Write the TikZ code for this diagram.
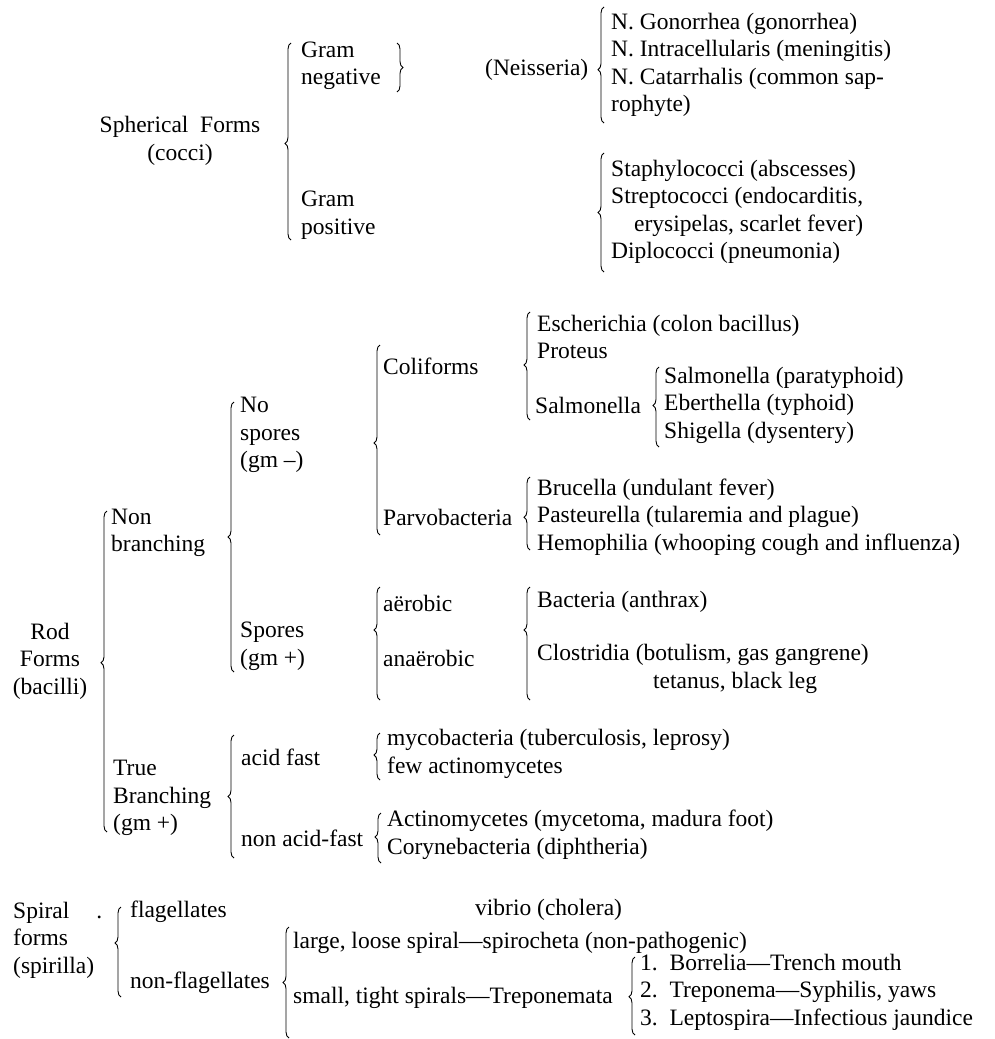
\documentclass[tikz,border=0pt]{standalone}
\usepackage{fontspec}
\setmainfont{Liberation Serif}
\usetikzlibrary{decorations.pathreplacing}

\begin{document}
\begin{tikzpicture}[x=1pt, y=-1pt,
    txt/.style={anchor=west, inner sep=0pt, align=left, font=\fontsize{23.5}{27.5}\selectfont},
    brc/.style={decorate, decoration={brace, amplitude=6pt, aspect=#1}, line width=0.9pt},
    brc/.default=0.5]
    \useasboundingbox (0,0) rectangle (994,1039);

    \begin{scope}
        \node[txt, align=center, anchor=center] (sph) at (180,141) {Spherical\ \ Forms\\(cocci)};
        \node[txt] (gneg) at (301,66) {Gram\\negative};
        \node[txt] (gpos) at (301,215) {Gram\\positive};
        \node[txt] (neis) at (485,70) {(Neisseria)};
        \node[txt] (nlist) at (611,65) {N. Gonorrhea (gonorrhea)\\N. Intracellularis (meningitis)\\N. Catarrhalis (common sap-\\rophyte)};
        \node[txt] (slist) at (611,212) {Staphylococci (abscesses)\\Streptococci (endocarditis,\\\hspace*{23pt}erysipelas, scarlet fever)\\Diplococci (pneumonia)};
        \draw[brc=0.49] (291,240) -- (291,43);
        \draw[brc] (397,43) -- (397,92);
        \draw[brc=0.46] (604,123) -- (604,7);
        \draw[brc] (604,272) -- (604,153);
    \end{scope}

    \begin{scope}
        \node[txt, align=center, anchor=center] (rod) at (50,661) {Rod\\Forms\\(bacilli)};
        \node[txt] (nonb) at (111,533) {Non\\branching};
        \node[txt] (trueb) at (113,798) {True\\Branching\\(gm +)};
        \node[txt] (nosp) at (240,435) {No\\spores\\(gm –)};
        \node[txt] (sp) at (240,646) {Spores\\(gm +)};
        \node[txt] (coli) at (383,366) {Coliforms};
        \node[txt] (parvo) at (383,517) {Parvobacteria};
        \node[txt] (ecoli) at (537,337) {Escherichia (colon bacillus)\\Proteus};
        \node[txt] (salm) at (535,405) {Salmonella};
        \node[txt] (sallist) at (664,405) {Salmonella (paratyphoid)\\Eberthella (typhoid)\\Shigella (dysentery)};
        \node[txt] (parlist) at (537,517) {Brucella (undulant fever)\\Pasteurella (tularemia and plague)\\Hemophilia (whooping cough and influenza)};
        \node[txt] (aer) at (383,603) {aërobic};
        \node[txt] (anaer) at (383,658) {anaërobic};
        \node[txt] (bact) at (537,602) {Bacteria (anthrax)};
        \node[txt] (clos) at (537,669) {Clostridia (botulism, gas gangrene)\\\hspace*{116pt}tetanus, black leg};
        \node[txt] (acid) at (241,757) {acid fast};
        \node[txt] (nacid) at (241,838) {non acid-fast};
        \node[txt] (myco) at (387,754) {mycobacteria (tuberculosis, leprosy)\\few actinomycetes};
        \node[txt] (actino) at (387,835) {Actinomycetes (mycetoma, madura foot)\\Corynebacteria (diphtheria)};
        \draw[brc=0.527] (107,832) -- (107,511);
        \draw[brc] (234,672) -- (234,402);
        \draw[brc=0.484] (380,535) -- (380,345);
        \draw[brc=0.51] (530,420) -- (530,312);
        \draw[brc=0.52] (659,447) -- (659,367);
        \draw[brc=0.45] (530,550) -- (530,477);
        \draw[brc=0.62] (380,700) -- (380,587);
        \draw[brc=0.62] (530,700) -- (530,587);
        \draw[brc] (234,858) -- (234,735);
        \draw[brc=0.53] (380,780) -- (380,733);
        \draw[brc=0.52] (381,863) -- (381,813);
    \end{scope}

    \begin{scope}
        \node[txt] (spir) at (13,940) {Spiral\hspace*{27pt}.\\forms\\(spirilla)};
        \node[txt] (flag) at (130,912) {flagellates};
        \node[txt] (nflag) at (130,983) {non-flagellates};
        \node[txt] (vib) at (475,910) {vibrio (cholera)};
        \node[txt] (large) at (293,943) {large, loose spiral—spirocheta (non-pathogenic)};
        \node[txt] (small) at (293,998) {small, tight spirals—Treponemata};
        \node[txt] (tlist) at (640,992) {1.\ \ Borrelia—Trench mouth\\2.\ \ Treponema—Syphilis, yaws\\3.\ \ Leptospira—Infectious jaundice};
        \draw[brc=0.6] (121,997) -- (121,907);
        \draw[brc] (289,1038) -- (289,927);
        \draw[brc=0.49] (635,1035) -- (635,957);
    \end{scope}
\end{tikzpicture}
\end{document}
